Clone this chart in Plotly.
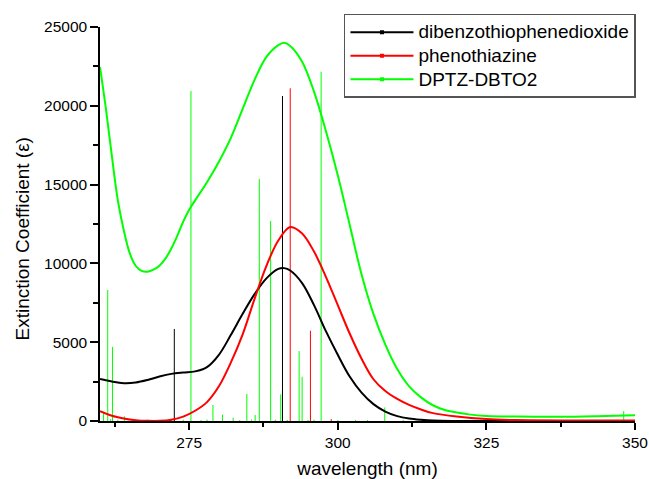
import plotly.graph_objects as go

# ---- data ----
# smooth absorption curves (wavelength nm, extinction coefficient)
dbt_x = [260, 262, 264, 266, 268, 270, 272, 274, 276, 278, 280, 282, 284, 286, 288, 290, 291, 292,
         294, 296, 298, 300, 302, 304, 306, 308, 310, 312, 314, 316, 320, 330, 350]
dbt_y = [2660, 2500, 2400, 2440, 2600, 2820, 2990, 3080, 3150, 3420, 4200, 5450, 6800, 8050, 9050,
         9650, 9700, 9550, 8750, 7350, 5700, 4200, 2820, 1800, 1070, 600, 310, 160, 80, 30, 5, 0, 0]

ptz_x = [260, 262, 264, 266, 268, 270, 272, 274, 276, 278, 280, 282, 284, 286, 288, 290, 292,
         294, 296, 298, 300, 302, 304, 306, 308, 310, 312, 314, 316, 320, 325, 330, 340, 350]
ptz_y = [620, 330, 160, 50, 10, 10, 80, 280, 650, 1200, 2200, 3700, 5500, 7750, 9850, 11450, 12310,
         11900, 10750, 9150, 7350, 5550, 3950, 2650, 1900, 1400, 1020, 730, 500, 280, 120, 60, 35, 30]

dptz_x = [260, 261, 262, 263, 264, 265, 266, 267, 268, 269, 270, 271, 272, 273, 274, 275, 276, 278,
          280, 282, 284, 286, 288, 290, 291, 292, 294, 296, 298, 300, 302, 304, 306, 308, 310, 312,
          314, 316, 318, 320, 322, 325, 330, 337.5, 345, 350]
dptz_y = [22460, 19800, 16800, 14000, 12100, 10650, 9850, 9520, 9470, 9600, 9850, 10300, 10950,
          11750, 12650, 13400, 14000, 15150, 16450, 17950, 19800, 21650, 23100, 23850, 24000, 23800,
          22800, 20900, 18400, 15600, 12450, 9300, 6800, 4850, 3300, 2200, 1500, 1000, 700, 540,
          420, 320, 285, 270, 320, 360]

# calculated transitions (stick spectra)
dbt_stick_x = [272.5, 290.7]
dbt_stick_y = [5840, 20620]

ptz_stick_x = [292.0, 295.4, 298.9]
ptz_stick_y = [21110, 5730, 120]

dptz_stick_x = [260.6, 261.3, 261.8, 262.1, 263.0, 264.1, 265.5, 268.0, 270.5, 272.0, 274.0, 275.3,
                277.0, 278.0, 279.0, 280.6, 282.4, 283.5, 284.7, 285.5, 286.1, 286.8, 288.7, 289.5,
                290.4, 291.5, 293.5, 294.0, 295.0, 296.0, 297.2, 300.0, 303.0, 305.0, 307.9, 311.0,
                315.0, 322.0, 324.0, 326.0, 328.0, 332.0, 334.5, 336.0, 337.0, 338.5, 340.0, 343.0,
                348.1]
dptz_stick_y = [590, 8310, 120, 4700, 80, 300, 60, 90, 70, 60, 80, 20940,
                60, 90, 1015, 400, 210, 60, 1710, 90, 380, 15360, 12690, 80,
                1690, 70, 4440, 2810, 60, 80, 22160, 60, 70, 60, 860, 60,
                70, 60, 80, 60, 90, 70, 60, 80, 60, 70, 60, 80,
                630]

names = ["dibenzothiophenedioxide", "phenothiazine", "DPTZ-DBTO2"]
colors = ["#000000", "#ff0000", "#00ff00"]

FONT = "Arial, 'Liberation Sans', sans-serif"


def sticks(xs, ys):
    sx, sy = [], []
    for x, y in zip(xs, ys):
        sx += [x, x, None]
        sy += [0, y, None]
    return sx, sy


fig = go.Figure()

# stick spectra first (underneath curves)
for (xs, ys), c in zip([(dbt_stick_x, dbt_stick_y), (ptz_stick_x, ptz_stick_y),
                        (dptz_stick_x, dptz_stick_y)], colors):
    sx, sy = sticks(xs, ys)
    fig.add_trace(go.Scatter(x=sx, y=sy, mode="lines", line=dict(color=c, width=1),
                             showlegend=False, hoverinfo="skip", connectgaps=False))

# curves
for (xs, ys), c in zip([(dbt_x, dbt_y), (ptz_x, ptz_y), (dptz_x, dptz_y)], colors):
    fig.add_trace(go.Scatter(x=xs, y=ys, mode="lines",
                             line=dict(color=c, width=2, shape="spline", smoothing=1.0),
                             showlegend=False))

# legend entries
for n, c in zip(names, colors):
    fig.add_trace(go.Scatter(x=[None], y=[None], mode="lines+markers",
                             name='<span style="font-size:19px">' + n + '</span>',
                             line=dict(color=c, width=2),
                             marker=dict(color=c, size=4, symbol="square")))

fig.update_layout(
    width=649, height=479,
    margin=dict(l=100, r=14, t=27, b=58, autoexpand=False),
    paper_bgcolor="white", plot_bgcolor="white",
    font=dict(family=FONT, color="black"),
    showlegend=True,
    legend=dict(x=0.456, y=1.033, xanchor="left", yanchor="top",
                bordercolor="#555555", borderwidth=1.5, bgcolor="white",
                font=dict(size=15.8, family=FONT), itemwidth=63,
                tracegroupgap=0),
    xaxis=dict(range=[260, 350], tickmode="linear", tick0=275, dtick=25,
               ticks="outside", ticklen=7, tickwidth=1.5, tickcolor="black",
               showline=True, linewidth=1.5, linecolor="black",
               showgrid=False, zeroline=False, automargin=False,
               tickfont=dict(size=15.5, family=FONT),
               minor=dict(ticks="outside", ticklen=4, tickwidth=1.5, tickcolor="black",
                          tick0=262.5, dtick=12.5, showgrid=False),
               title=dict(text="wavelength (nm)", font=dict(size=19, family=FONT), standoff=19)),
    yaxis=dict(range=[0, 25000], tickmode="linear", tick0=0, dtick=5000, tickformat="d",
               ticks="outside", ticklen=8, tickwidth=1.5, tickcolor="black",
               showline=True, linewidth=1.5, linecolor="black",
               showgrid=False, zeroline=False, automargin=False,
               tickfont=dict(size=15.5, family=FONT),
               minor=dict(ticks="outside", ticklen=5, tickwidth=1.5, tickcolor="black",
                          tick0=0, dtick=2500, showgrid=False)),
    annotations=[dict(text="Extinction Coefficient (ε)", xref="paper", yref="paper",
                      x=-0.144, y=0.463, textangle=-90, showarrow=False,
                      xanchor="center", yanchor="middle",
                      font=dict(size=19, family=FONT, color="black"))],
)

fig.write_html("out.html")
